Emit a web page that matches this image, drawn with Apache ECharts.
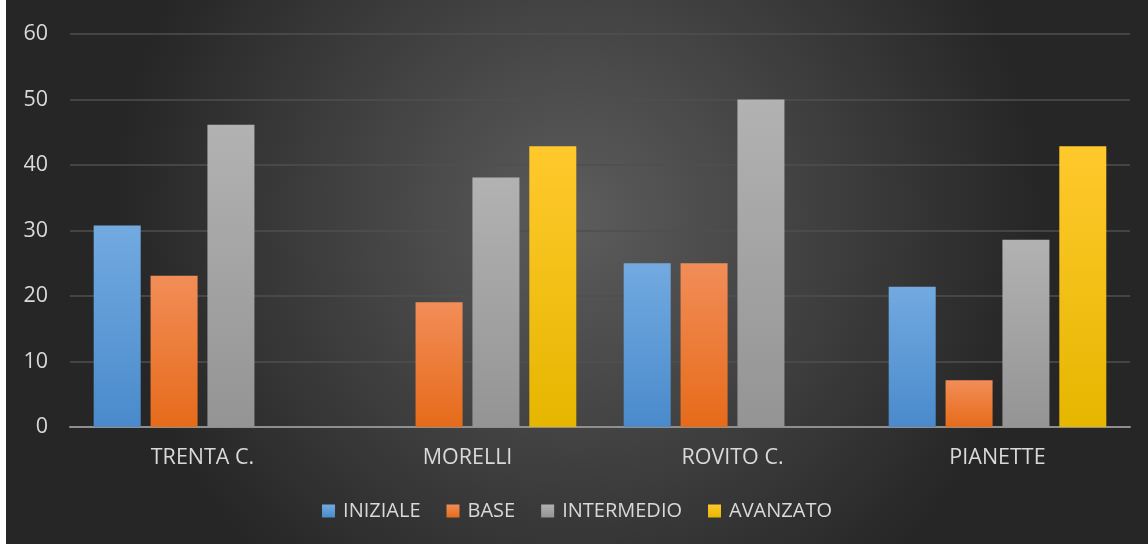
<!DOCTYPE html>
<html>
<head>
<meta charset="utf-8">
<script src="https://cdn.jsdelivr.net/npm/echarts@6/dist/echarts.min.js"></script>
<style>
  html, body { margin: 0; padding: 0; background: #ffffff; }
  #chart { position: absolute; left: 6px; top: 0; width: 1142px; height: 544px; }
</style>
</head>
<body>
<div id="chart"></div>
<script>
// data
var categories = ['TRENTA C.', 'MORELLI', 'ROVITO C.', 'PIANETTE'];
var seriesNames = ['INIZIALE', 'BASE', 'INTERMEDIO', 'AVANZATO'];
var iniziale = [30.77, 0, 25, 21.43];
var base = [23.08, 19.05, 25, 7.14];
var intermedio = [46.15, 38.1, 50, 28.57];
var avanzato = [0, 42.86, 0, 42.86];
var yTicks = [0, 10, 20, 30, 40, 50, 60];

function grad (top, bottom) {
  return new echarts.graphic.LinearGradient(0, 0, 0, 1, [
    { offset: 0, color: top },
    { offset: 1, color: bottom }
  ]);
}

var colors = [
  grad('#72aae0', '#4a8acc'),
  grad('#f28d58', '#e66b1a'),
  grad('#b2b2b2', '#949494'),
  grad('#ffc92c', '#e6b600')
];

var myChart = echarts.init(document.getElementById('chart'));

function makeSeries (name, values, idx) {
  return {
    name: name,
    type: 'bar',
    data: values,
    barWidth: 47,
    barGap: '21%',
    itemStyle: {
      color: colors[idx],
      shadowBlur: 8,
      shadowColor: 'rgba(0,0,0,0.45)',
      shadowOffsetX: 1
    }
  };
}

myChart.setOption({
  backgroundColor: new echarts.graphic.RadialGradient(0.5, 0.4, 0.85, [
    { offset: 0, color: '#5c5c5c' },
    { offset: 1, color: '#262626' }
  ]),
  textStyle: { fontFamily: '"Open Sans", "DejaVu Sans", sans-serif' },
  grid: { left: 64, right: 18, top: 34, bottom: 117, containLabel: false },
  legend: {
    data: seriesNames,
    bottom: 18,
    left: 'center',
    icon: 'rect',
    itemWidth: 13,
    itemHeight: 13,
    itemGap: 26,
    textStyle: { color: '#d9d9d9', fontSize: 20, padding: [0, 0, 0, 3] }
  },
  xAxis: {
    type: 'category',
    data: categories,
    axisTick: { show: false },
    axisLine: { lineStyle: { color: '#8f8f8f', width: 2 } },
    axisLabel: { color: '#d9d9d9', fontSize: 21.5, margin: 20 }
  },
  yAxis: {
    type: 'value',
    min: yTicks[0],
    max: yTicks[yTicks.length - 1],
    interval: 10,
    axisLine: { show: false },
    axisTick: { show: false },
    axisLabel: { color: '#d9d9d9', fontSize: 21.5, margin: 22 },
    splitLine: { lineStyle: { color: '#4f4f4f', width: 1.5 } }
  },
  series: [
    makeSeries(seriesNames[0], iniziale, 0),
    makeSeries(seriesNames[1], base, 1),
    makeSeries(seriesNames[2], intermedio, 2),
    makeSeries(seriesNames[3], avanzato, 3)
  ]
});
</script>
</body>
</html>
